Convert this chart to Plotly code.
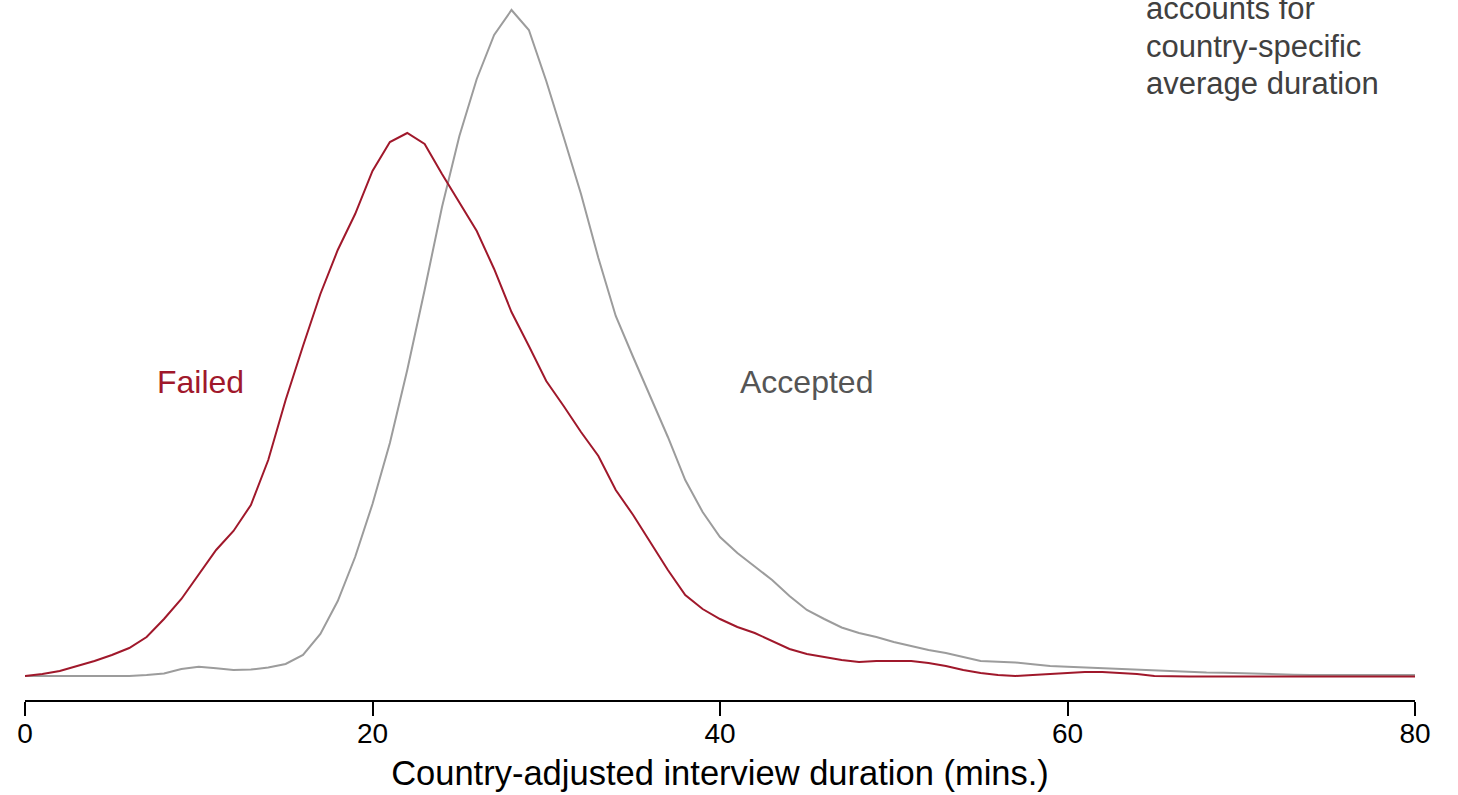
import plotly.graph_objects as go

# Country-adjusted interview duration (minutes), evaluated at each whole minute
minutes = list(range(0, 81))

# Kernel density of failed interviews
failed_density = [
    0.0001, 0.0003, 0.0006, 0.0011, 0.0016, 0.0022, 0.0029, 0.0040, 0.0058, 0.0078,
    0.0103, 0.0127, 0.0146, 0.0172, 0.0217, 0.0277, 0.0331, 0.0383, 0.0427, 0.0463,
    0.0506, 0.0535, 0.0544, 0.0533, 0.0503, 0.0474, 0.0446, 0.0408, 0.0365, 0.0331,
    0.0296, 0.0271, 0.0245, 0.0221, 0.0187, 0.0162, 0.0134, 0.0107, 0.0082, 0.0068,
    0.0058, 0.0050, 0.0044, 0.0036, 0.0028, 0.0023, 0.0020, 0.0017, 0.0015, 0.0016,
    0.0016, 0.0016, 0.0014, 0.0011, 0.0007, 0.0004, 0.0002, 0.0001, 0.0002, 0.0003,
    0.0004, 0.0005, 0.0005, 0.0004, 0.0003, 0.0001, 0.00005, 0.00005, 0.00005, 0.00005,
    0.00005, 0.00005, 0.00005, 0.00005, 0.00005, 0.00005, 0.00005, 0.00005, 0.00005, 0.00005,
    0.00005,
]

# Kernel density of accepted interviews
accepted_density = [
    0.0001, 0.0001, 0.0001, 0.0001, 0.0001, 0.0001, 0.0001, 0.0002, 0.00035, 0.0008,
    0.00103, 0.00087, 0.0007, 0.00075, 0.00095, 0.0013, 0.0022, 0.0043, 0.0076, 0.0120,
    0.0173, 0.0234, 0.0307, 0.0387, 0.0470, 0.0541, 0.0598, 0.0642, 0.0667, 0.0647,
    0.0596, 0.0540, 0.0483, 0.0419, 0.0361, 0.0320, 0.0280, 0.0240, 0.0197, 0.0165,
    0.0140, 0.0124, 0.01105, 0.0097, 0.0081, 0.0067, 0.0058, 0.00495, 0.0044, 0.0040,
    0.0035, 0.0031, 0.0027, 0.0024, 0.0020, 0.0016, 0.00153, 0.00145, 0.00127, 0.0011,
    0.00103, 0.00095, 0.00087, 0.0008, 0.00072, 0.00064, 0.00057, 0.00047, 0.00045, 0.00043,
    0.00037, 0.0003, 0.00027, 0.00023, 0.0002, 0.0002, 0.0002, 0.0002, 0.0002, 0.0002,
    0.0002,
]

x_ticks = [0, 20, 40, 60, 80]
x_title = "Country-adjusted interview duration (mins.)"
note_lines = ["accounts for", "country-specific", "average duration"]

RED = "#A0182B"
GRAY_LINE = "#9C9C9C"
SANS = "Liberation Sans, Arial, Helvetica, sans-serif"

fig = go.Figure()
fig.add_trace(go.Scatter(x=minutes, y=accepted_density, mode="lines",
                         line=dict(color=GRAY_LINE, width=2), name="Accepted",
                         showlegend=False, hoverinfo="skip"))
fig.add_trace(go.Scatter(x=minutes, y=failed_density, mode="lines",
                         line=dict(color=RED, width=2), name="Failed",
                         showlegend=False, hoverinfo="skip"))

fig.add_annotation(x=10.1, y=0.0295, xref="x", yref="y", text="Failed",
                   showarrow=False, font=dict(family=SANS, size=32, color=RED))
fig.add_annotation(x=45.0, y=0.0295, xref="x", yref="y", text="Accepted",
                   showarrow=False, font=dict(family=SANS, size=32, color="#555555"))

note_y = [0.988, 0.934, 0.881]
for line, yy in zip(note_lines, note_y):
    fig.add_annotation(x=0.805, y=yy, xref="paper", yref="paper", text=line,
                       xanchor="left", yanchor="middle", showarrow=False,
                       font=dict(family=SANS, size=31, color="#404040"))

fig.update_layout(
    width=1458, height=795,
    margin=dict(l=25, r=43, t=0, b=95),
    paper_bgcolor="white", plot_bgcolor="white",
    xaxis=dict(range=[0, 80], tickvals=x_ticks, ticktext=[str(t) for t in x_ticks],
               showgrid=False, zeroline=False, showline=True, linecolor="black",
               linewidth=1.5, ticks="outside", ticklen=14, tickwidth=1.5,
               tickcolor="black", ticklabelstandoff=-6,
               tickfont=dict(family=SANS, size=28, color="black"),
               title=dict(text=x_title, standoff=13,
                          font=dict(family=SANS, size=34.5, color="black"))),
    yaxis=dict(range=[-0.0023, 0.0677], visible=False, showgrid=False, zeroline=False),
)

fig.write_html("out.html")
